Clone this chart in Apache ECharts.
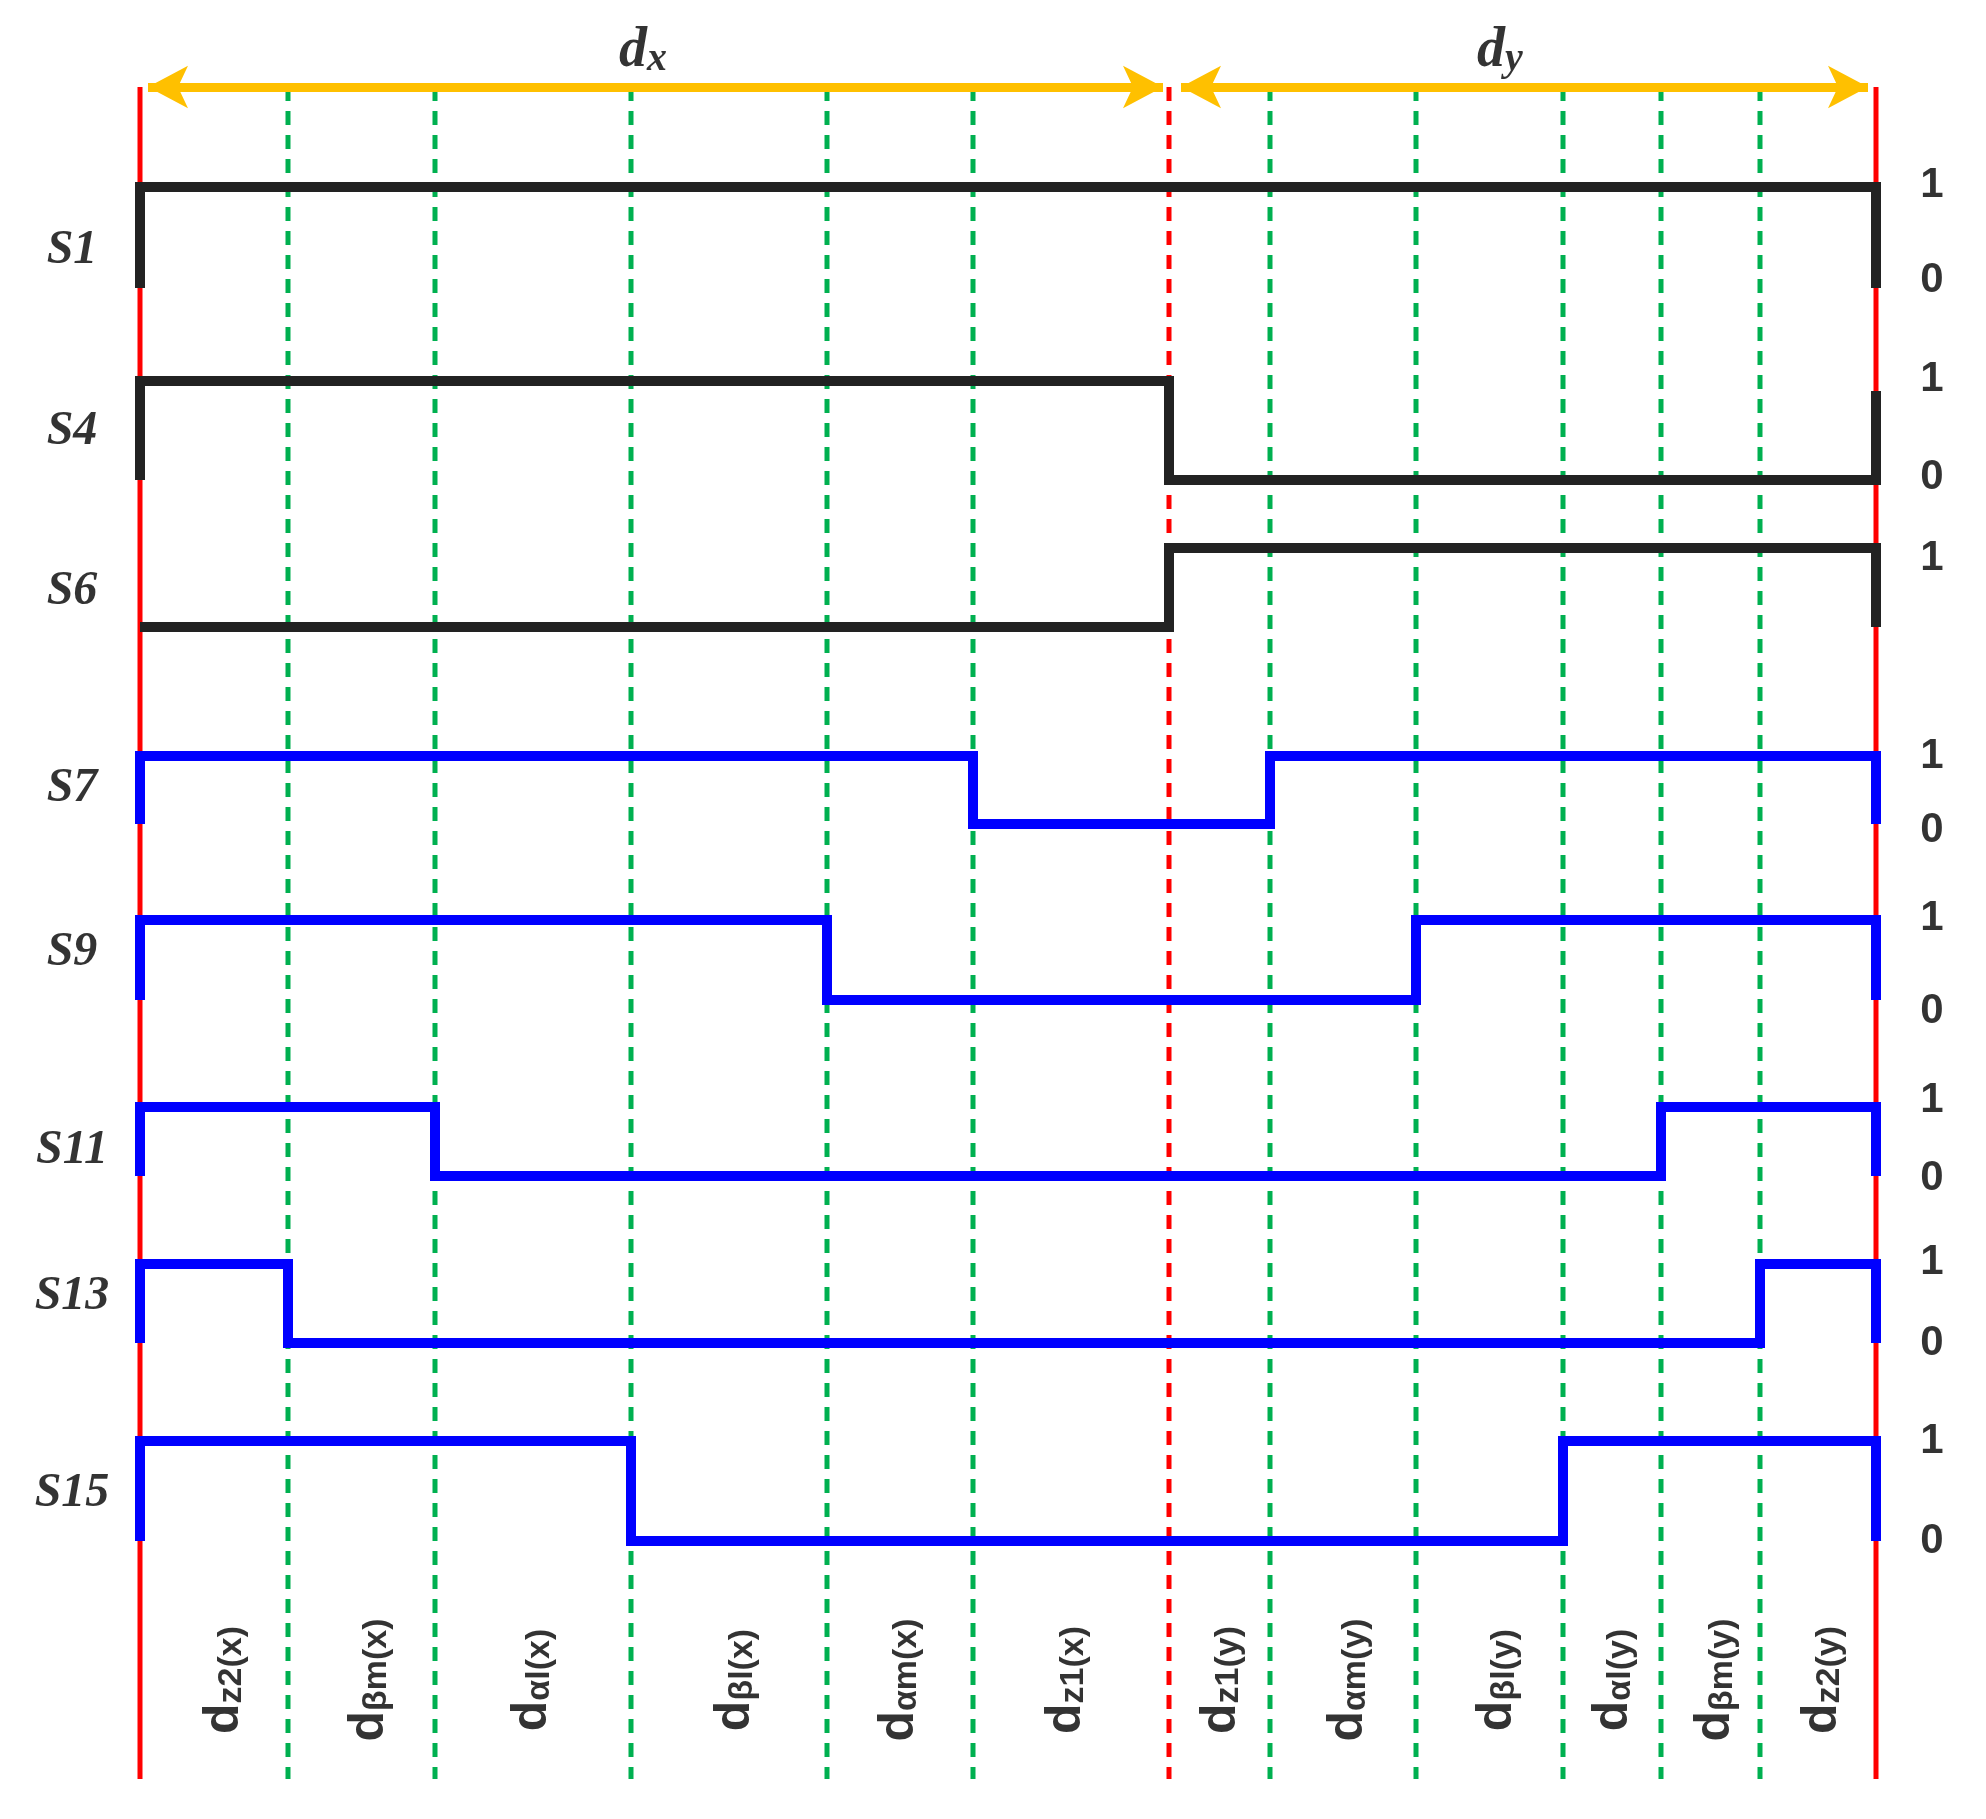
<!DOCTYPE html>
<html>
<head>
<meta charset="utf-8">
<script src="https://cdn.jsdelivr.net/npm/echarts@6/dist/echarts.min.js"></script>
<style>html,body{margin:0;padding:0;background:#fff}#main{width:1986px;height:1819px}</style>
</head>
<body>
<div id="main"></div>
<script>
// time boundaries (x) and row levels (y), in picture units
var xStart = 140, xMid = 1169, xEnd = 1876;
var greenX = [288, 435, 631, 827, 973, 1270, 1416, 1563, 1661, 1760];
var lineTop = 87, lineBottom = 1779;

var names = ['S1', 'S4', 'S6', 'S7', 'S9', 'S11', 'S13', 'S15'];
var rowHigh = [187, 381, 548, 756, 920, 1107, 1264, 1441];
var rowLow = [288, 480, 627, 824, 1000, 1176, 1343, 1541];
var colors = ['#222', '#222', '#222', '#0000ff', '#0000ff', '#0000ff', '#0000ff', '#0000ff'];
// switch times and levels: [x, level] pairs
var steps = [
    [[xStart, 0], [xStart, 1], [xEnd, 1], [xEnd, 0]],
    [[xStart, 0], [xStart, 1], [xMid, 1], [xMid, 0], [xEnd, 0], [xEnd, 0.9]],
    [[xStart, 0], [xMid, 0], [xMid, 1], [xEnd, 1], [xEnd, 0]],
    [[xStart, 0], [xStart, 1], [973, 1], [973, 0], [1270, 0], [1270, 1], [xEnd, 1], [xEnd, 0]],
    [[xStart, 0], [xStart, 1], [827, 1], [827, 0], [1416, 0], [1416, 1], [xEnd, 1], [xEnd, 0]],
    [[xStart, 0], [xStart, 1], [435, 1], [435, 0], [1661, 0], [1661, 1], [xEnd, 1], [xEnd, 0]],
    [[xStart, 0], [xStart, 1], [288, 1], [288, 0], [1760, 0], [1760, 1], [xEnd, 1], [xEnd, 0]],
    [[xStart, 0], [xStart, 1], [631, 1], [631, 0], [1563, 0], [1563, 1], [xEnd, 1], [xEnd, 0]]
];
var nameY = [251, 432, 592, 789, 953, 1151, 1297, 1494];
var levelLabels = [
    [185, '1'], [280, '0'], [379, '1'], [477, '0'], [558, '1'],
    [756, '1'], [830, '0'], [918, '1'], [1011, '0'], [1100, '1'], [1178, '0'],
    [1262, '1'], [1343, '0'], [1441, '1'], [1541, '0']
];
var bottomX = [222, 367, 530, 733, 897, 1064, 1219, 1346, 1495, 1611, 1713, 1820];
var bottomSub = ['z2(x)', 'βm(x)', 'αl(x)', 'βl(x)', 'αm(x)', 'z1(x)',
    'z1(y)', 'αm(y)', 'βl(y)', 'αl(y)', 'βm(y)', 'z2(y)'];
var bottomY = 1680;

var series = [];
greenX.forEach(function (x) {
    series.push({type: 'line', symbol: 'none', z: 1, data: [[x, lineTop], [x, lineBottom]],
        lineStyle: {color: '#00b050', width: 5, type: [14, 10]}});
});
series.push({type: 'line', symbol: 'none', z: 1, data: [[xStart, lineTop], [xStart, lineBottom]],
    lineStyle: {color: '#ff0000', width: 5}});
series.push({type: 'line', symbol: 'none', z: 1, data: [[xEnd, lineTop], [xEnd, lineBottom]],
    lineStyle: {color: '#ff0000', width: 5}});
series.push({type: 'line', symbol: 'none', z: 1, data: [[xMid, lineTop], [xMid, lineBottom]],
    lineStyle: {color: '#ff0000', width: 5, type: [14, 10]},
    markLine: {
        silent: true, symbol: ['arrow', 'arrow'], symbolSize: [32, 40],
        lineStyle: {color: '#ffc000', width: 9, type: 'solid'}, label: {show: false},
        data: [
            [{coord: [xStart + 8, lineTop]}, {coord: [xMid - 6, lineTop]}],
            [{coord: [xMid + 12, lineTop]}, {coord: [xEnd - 8, lineTop]}]
        ]
    }});

steps.forEach(function (s, i) {
    series.push({type: 'line', symbol: 'none', z: 5,
        data: s.map(function (p) { return [p[0], rowLow[i] - p[1] * (rowLow[i] - rowHigh[i])]; }),
        lineStyle: {color: colors[i], width: 10, cap: 'butt', join: 'miter'}});
});

series.push({type: 'scatter', symbolSize: 0, z: 6,
    data: names.map(function (n, i) { return {value: [72, nameY[i]], name: n}; }),
    label: {show: true, position: 'inside', formatter: '{b}',
        fontFamily: 'Liberation Serif', fontStyle: 'italic', fontWeight: 'bold', fontSize: 48, color: '#000'}});
series.push({type: 'scatter', symbolSize: 0, z: 6,
    data: levelLabels.map(function (l) { return {value: [1932, l[0]], name: l[1]}; }),
    label: {show: true, position: 'inside', formatter: '{b}',
        fontFamily: 'Liberation Sans', fontWeight: 'bold', fontSize: 42, color: '#000'}});
series.push({type: 'scatter', symbolSize: 0, z: 6,
    data: bottomX.map(function (x, i) { return {value: [x, bottomY], name: bottomSub[i]}; }),
    label: {show: true, position: 'inside', rotate: 90,
        formatter: function (p) { return '{d|d}{s|' + p.name + '}'; },
        rich: {
            d: {fontFamily: 'Liberation Sans', fontWeight: 'bold', fontSize: 50, color: '#000', verticalAlign: 'bottom', lineHeight: 54},
            s: {fontFamily: 'Liberation Sans', fontWeight: 'bold', fontSize: 34, color: '#000', verticalAlign: 'bottom', lineHeight: 36}
        }}});
series.push({type: 'scatter', symbolSize: 0, z: 6,
    data: [{value: [643, 51], name: 'x'}, {value: [1500, 51], name: 'y'}],
    label: {show: true, position: 'inside',
        formatter: function (p) { return '{d|d}{s|' + p.name + '}'; },
        rich: {
            d: {fontFamily: 'Liberation Serif', fontStyle: 'italic', fontWeight: 'bold', fontSize: 56, color: '#000', verticalAlign: 'bottom', lineHeight: 58},
            s: {fontFamily: 'Liberation Serif', fontStyle: 'italic', fontWeight: 'bold', fontSize: 40, color: '#000', verticalAlign: 'bottom', lineHeight: 36}
        }}});

var myChart = echarts.init(document.getElementById('main'));
var option = {
    animation: false,
    grid: {left: 0, right: 0, top: 0, bottom: 0},
    xAxis: {type: 'value', min: 0, max: 1986, show: false},
    yAxis: {type: 'value', min: 0, max: 1819, inverse: true, show: false},
    series: series
};
myChart.setOption(option);
</script>
</body>
</html>
